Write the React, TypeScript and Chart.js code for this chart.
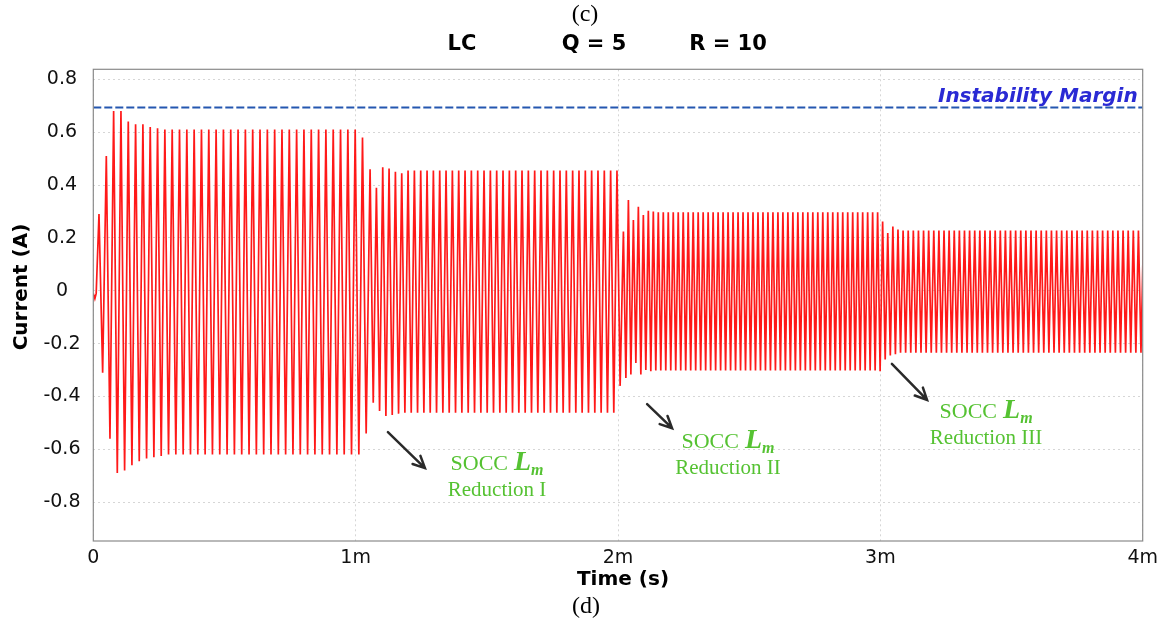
import React, { useEffect, useRef } from 'react';
import { Chart, registerables } from 'chart.js';

Chart.register(...registerables);

// ---- axis ticks ----
const xTickValues = [0, 1, 2, 3, 4];
const xTickLabels = ['0', '1m', '2m', '3m', '4m'];
const yTickValues = [-0.8, -0.6, -0.4, -0.2, 0, 0.2, 0.4, 0.6, 0.8];
const yTickLabels = ['-0.8', '-0.6', '-0.4', '-0.2', '0', '0.2', '0.4', '0.6', '0.8'];
const yMin = -0.947;
const yMax = 0.838;

// ---- signal (time in ms, current in A) ----
const leadTimes = [0, 0.006, 0.011];
const leadValues = [-0.01, -0.03, -0.01];

// time of first peak and oscillation period of each Lm stage (ms)
const segStart = [0.0217, 1.055, 2.0206, 3.0087];
const segPeriod = [0.0279, 0.02413, 0.019, 0.0195];

// stage 1: peaks and troughs of each cycle
const seg1Peaks = [
  0.29, 0.51, 0.68, 0.68, 0.64, 0.63, 0.63, 0.62, 0.615,
  0.61, 0.61, 0.61, 0.61, 0.61, 0.61, 0.61, 0.61, 0.61,
  0.61, 0.61, 0.61, 0.61, 0.61, 0.61, 0.61, 0.61, 0.61,
  0.61, 0.61, 0.61, 0.61, 0.61, 0.61, 0.61, 0.61, 0.61,
  0.58,
];
const seg1Troughs = [
  -0.31, -0.56, -0.69, -0.68, -0.66, -0.645, -0.635, -0.63, -0.625,
  -0.62, -0.62, -0.62, -0.62, -0.62, -0.62, -0.62, -0.62, -0.62,
  -0.62, -0.62, -0.62, -0.62, -0.62, -0.62, -0.62, -0.62, -0.62,
  -0.62, -0.62, -0.62, -0.62, -0.62, -0.62, -0.62, -0.62, -0.62,
  -0.54,
];
// stage 2
const seg2Peaks = [
  0.46, 0.39, 0.467, 0.463, 0.45, 0.445, 0.455, 0.455, 0.455, 0.455,
  0.455, 0.455, 0.455, 0.455, 0.455, 0.455, 0.455, 0.455, 0.455, 0.455,
  0.455, 0.455, 0.455, 0.455, 0.455, 0.455, 0.455, 0.455, 0.455, 0.455,
  0.455, 0.455, 0.455, 0.455, 0.455, 0.455, 0.455, 0.455, 0.455, 0.455,
];
const seg2Troughs = [
  -0.424, -0.455, -0.474, -0.47, -0.465, -0.462, -0.462, -0.462, -0.462, -0.462,
  -0.462, -0.462, -0.462, -0.462, -0.462, -0.462, -0.462, -0.462, -0.462, -0.462,
  -0.462, -0.462, -0.462, -0.462, -0.462, -0.462, -0.462, -0.462, -0.462, -0.462,
  -0.462, -0.462, -0.462, -0.462, -0.462, -0.462, -0.462, -0.462, -0.462, -0.36,
];
// stage 3
const seg3Peaks = [
  0.224, 0.343, 0.268, 0.318, 0.287, 0.303, 0.3, 0.297, 0.297, 0.297,
  0.297, 0.297, 0.297, 0.297, 0.297, 0.297, 0.297, 0.297, 0.297, 0.297,
  0.297, 0.297, 0.297, 0.297, 0.297, 0.297, 0.297, 0.297, 0.297, 0.297,
  0.297, 0.297, 0.297, 0.297, 0.297, 0.297, 0.297, 0.297, 0.297, 0.297,
  0.297, 0.297, 0.297, 0.297, 0.297, 0.297, 0.297, 0.297, 0.297, 0.297,
  0.297, 0.297,
];
const seg3Troughs = [
  -0.33, -0.317, -0.273, -0.317, -0.3, -0.305, -0.302, -0.302, -0.302, -0.302,
  -0.302, -0.302, -0.302, -0.302, -0.302, -0.302, -0.302, -0.302, -0.302, -0.302,
  -0.302, -0.302, -0.302, -0.302, -0.302, -0.302, -0.302, -0.302, -0.302, -0.302,
  -0.302, -0.302, -0.302, -0.302, -0.302, -0.302, -0.302, -0.302, -0.302, -0.302,
  -0.302, -0.302, -0.302, -0.302, -0.302, -0.302, -0.302, -0.302, -0.302, -0.302,
  -0.302, -0.305,
];
// stage 4
const seg4Peaks = [
  0.262, 0.218, 0.243, 0.232, 0.228, 0.228, 0.228, 0.228, 0.228, 0.228,
  0.228, 0.228, 0.228, 0.228, 0.228, 0.228, 0.228, 0.228, 0.228, 0.228,
  0.228, 0.228, 0.228, 0.228, 0.228, 0.228, 0.228, 0.228, 0.228, 0.228,
  0.228, 0.228, 0.228, 0.228, 0.228, 0.228, 0.228, 0.228, 0.228, 0.228,
  0.228, 0.228, 0.228, 0.228, 0.228, 0.228, 0.228, 0.228, 0.228, 0.228,
  0.228, 0.228,
];
const seg4Troughs = [
  -0.26, -0.245, -0.24, -0.235, -0.235, -0.235, -0.235, -0.235, -0.235, -0.235,
  -0.235, -0.235, -0.235, -0.235, -0.235, -0.235, -0.235, -0.235, -0.235, -0.235,
  -0.235, -0.235, -0.235, -0.235, -0.235, -0.235, -0.235, -0.235, -0.235, -0.235,
  -0.235, -0.235, -0.235, -0.235, -0.235, -0.235, -0.235, -0.235, -0.235, -0.235,
  -0.235, -0.235, -0.235, -0.235, -0.235, -0.235, -0.235, -0.235, -0.235, -0.235,
  -0.235, -0.235,
];

// instability margin level
const marginLevel = 0.693;
const marginRange = [0, 4];

// annotations (data coordinates)
const arrowFrom = [[1.123, -0.535], [2.111, -0.429], [3.044, -0.277]];
const arrowTo = [[1.264, -0.671], [2.206, -0.52], [3.178, -0.413]];
const noteAt = [[1.539, -0.678], [2.419, -0.595], [3.403, -0.483]];
const noteSecond = ['Reduction I', 'Reduction II', 'Reduction III'];

function buildSignal() {
  const pts: { x: number; y: number }[] = leadTimes.map((t, i) => ({ x: t, y: leadValues[i] }));
  const segs = [
    [seg1Peaks, seg1Troughs],
    [seg2Peaks, seg2Troughs],
    [seg3Peaks, seg3Troughs],
    [seg4Peaks, seg4Troughs],
  ];
  segs.forEach(([pk, tr], s) => {
    pk.forEach((v, i) => {
      const t = segStart[s] + i * segPeriod[s];
      pts.push({ x: t, y: v });
      pts.push({ x: t + segPeriod[s] / 2, y: tr[i] });
    });
  });
  return pts;
}

const GREEN = '#55c232';

const overlay = {
  id: 'overlay',
  afterDraw(chart: any) {
    const { ctx, chartArea: ca, scales } = chart;
    const xs = scales.x;
    const ys = scales.y;
    ctx.save();
    // frame
    ctx.strokeStyle = '#8a8a8a';
    ctx.lineWidth = 1.2;
    ctx.strokeRect(ca.left, ca.top, ca.right - ca.left, ca.bottom - ca.top);

    ctx.fillStyle = '#000';
    ctx.textAlign = 'center';
    ctx.textBaseline = 'middle';
    ctx.font = '24px "Liberation Serif"';
    ctx.fillText('(c)', 585, 15);
    ctx.fillText('(d)', 586, 607);

    ctx.font = 'bold 21px "DejaVu Sans"';
    ctx.fillText('LC', 462, 45);
    ctx.fillText('Q = 5', 594, 45);
    ctx.fillText('R = 10', 728, 45);

    ctx.font = 'bold 20px "DejaVu Sans"';
    ctx.fillText('Time (s)', 623, 580);
    ctx.save();
    ctx.translate(22, 287);
    ctx.rotate(-Math.PI / 2);
    ctx.fillText('Current (A)', 0, 0);
    ctx.restore();

    // instability margin label
    ctx.font = 'italic bold 20px "DejaVu Sans"';
    ctx.fillStyle = '#2a2ad4';
    ctx.textAlign = 'right';
    ctx.textBaseline = 'alphabetic';
    ctx.fillText('Instability Margin', xs.getPixelForValue(4) - 5, ys.getPixelForValue(marginLevel) - 6);

    // arrows
    ctx.strokeStyle = '#2a2a2a';
    ctx.lineWidth = 2.5;
    ctx.lineCap = 'round';
    arrowFrom.forEach((f, i) => {
      const x1 = xs.getPixelForValue(f[0]);
      const y1 = ys.getPixelForValue(f[1]);
      const x2 = xs.getPixelForValue(arrowTo[i][0]);
      const y2 = ys.getPixelForValue(arrowTo[i][1]);
      ctx.beginPath();
      ctx.moveTo(x1, y1);
      ctx.lineTo(x2, y2);
      const a = Math.atan2(y2 - y1, x2 - x1);
      const L = 13;
      ctx.moveTo(x2 - L * Math.cos(a - 0.45), y2 - L * Math.sin(a - 0.45));
      ctx.lineTo(x2, y2);
      ctx.lineTo(x2 - L * Math.cos(a + 0.45), y2 - L * Math.sin(a + 0.45));
      ctx.stroke();
    });

    // notes
    ctx.fillStyle = GREEN;
    ctx.textBaseline = 'alphabetic';
    noteAt.forEach((p, i) => {
      const cx = xs.getPixelForValue(p[0]);
      const by = ys.getPixelForValue(p[1]);
      const f1 = '22px "Liberation Serif"';
      const f2 = 'italic bold 28px "Liberation Serif"';
      const f3 = 'italic bold 16px "Liberation Serif"';
      ctx.font = f1;
      const w1 = ctx.measureText('SOCC').width;
      ctx.font = f2;
      const w2 = ctx.measureText('L').width;
      ctx.font = f3;
      const w3 = ctx.measureText('m').width;
      const gap = 6;
      const total = w1 + gap + w2 + w3;
      let x0 = cx - total / 2;
      ctx.textAlign = 'left';
      ctx.font = f1;
      ctx.fillText('SOCC', x0, by);
      x0 += w1 + gap;
      ctx.font = f2;
      ctx.fillText('L', x0, by);
      x0 += w2;
      ctx.font = f3;
      ctx.fillText('m', x0, by + 5);
      ctx.textAlign = 'center';
      ctx.font = '21px "Liberation Serif"';
      ctx.fillText(noteSecond[i], cx, by + 26);
    });
    ctx.restore();
  },
};

export default function App() {
  const ref = useRef<HTMLCanvasElement>(null);
  useEffect(() => {
    const canvas = ref.current;
    if (!canvas) return;
    const tickFont = { family: '"DejaVu Sans"', size: 19 };
    const chart = new Chart(canvas, {
      type: 'line',
      data: {
        datasets: [
          {
            data: buildSignal(),
            borderColor: 'rgba(255,0,0,0.9)',
            borderWidth: 1.7,
            pointRadius: 0,
            tension: 0,
            order: 2,
          },
          {
            data: marginRange.map((x) => ({ x, y: marginLevel })),
            borderColor: '#2457b0',
            borderWidth: 2,
            borderDash: [8, 3],
            pointRadius: 0,
            order: 1,
          },
        ],
      },
      options: {
        responsive: false,
        animation: false,
        events: [],
        layout: { padding: { top: 69.3, right: 27.3, bottom: 0, left: 0 } },
        plugins: {
          legend: { display: false },
          tooltip: { enabled: false },
          title: { display: false },
        },
        scales: {
          x: {
            type: 'linear',
            min: 0,
            max: 4,
            afterBuildTicks: (s: any) => {
              s.ticks = xTickValues.map((v) => ({ value: v }));
            },
            afterFit: (s: any) => {
              s.height = 89;
            },
            ticks: {
              callback: (_v: any, i: number) => xTickLabels[i],
              color: '#111',
              font: tickFont,
              padding: 6,
              maxRotation: 0,
              autoSkip: false,
            },
            grid: { color: '#d6d6d6', drawTicks: false, lineWidth: 1 },
            border: { display: false, dash: [2, 3] },
          },
          y: {
            type: 'linear',
            min: yMin,
            max: yMax,
            afterBuildTicks: (s: any) => {
              s.ticks = yTickValues.map((v) => ({ value: v }));
            },
            afterFit: (s: any) => {
              s.width = 93.3;
            },
            ticks: {
              callback: (_v: any, i: number) => yTickLabels[i],
              color: '#111',
              font: tickFont,
              padding: 12.8,
              crossAlign: 'center',
              autoSkip: false,
            },
            grid: { color: '#d6d6d6', drawTicks: false, lineWidth: 1 },
            border: { display: false, dash: [2, 3] },
          },
        },
      } as any,
      plugins: [overlay],
    });
    return () => chart.destroy();
  }, []);
  return (
    <div style={{ position: 'fixed', left: 0, top: 0, width: 1170, height: 630, background: '#fff' }}>
      <canvas ref={ref} width={1170} height={630} style={{ width: 1170, height: 630, display: 'block' }} />
    </div>
  );
}
